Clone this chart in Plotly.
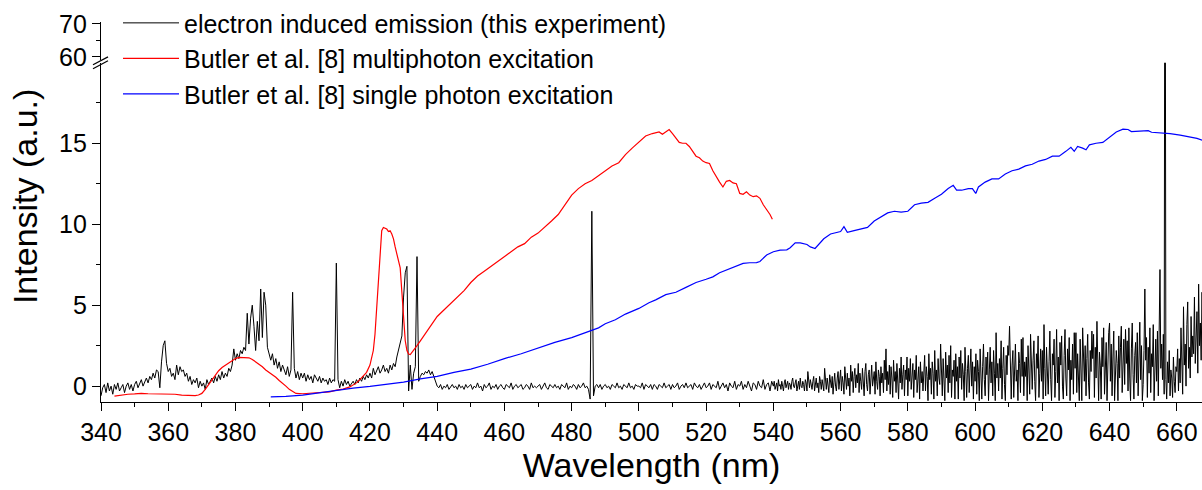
import plotly.graph_objects as go

# ---------------- data ----------------
# electron induced emission, part 1: 0.5 nm steps from 340 nm (rows of 5 nm)
electron_a_start = 340.0
electron_a_step = 0.5
electron_a_rows = [
    [-0.6, -0.1, 0.1, -0.4, 0.2, -0.3, 0.0, -0.5, 0.1, -0.2],   # 340
    [0.2, -0.3, -0.1, 0.1, -0.4, 0.0, 0.2, -0.2, 0.1, -0.3],    # 345
    [0.1, 0.3, -0.1, 0.2, 0.4, 0.0, 0.3, 0.5, 0.2, 0.6],        # 350
    [0.4, 0.8, 0.5, 1.0, 0.9, -0.1, 1.5, 2.5, 2.8, 1.4],        # 355
    [0.9, 1.1, 0.6, 0.8, 0.4, 1.3, 0.7, 1.2, 0.9, 1.0],         # 360
    [0.6, 0.8, 0.3, 0.6, 0.1, 0.4, 0.2, 0.5, -0.1, 0.3],        # 365
    [0.0, 0.2, -0.2, 0.4, 0.1, 0.3, 0.5, 0.2, 0.6, 0.3],        # 370
    [0.7, 0.4, 0.9, 0.5, 0.8, 0.6, 1.1, 0.9, 1.3, 2.3],         # 375
    [1.6, 2.0, 1.7, 2.2, 2.0, 2.4, 2.2, 4.5, 2.6, 4.2],         # 380
    [5.0, 3.7, 2.2, 4.0, 2.8, 6.0, 3.0, 5.8, 5.0, 2.4],         # 385
    [1.9, 1.6, 2.0, 1.3, 1.7, 1.1, 1.5, 0.9, 1.3, 1.0],         # 390
    [0.7, 1.2, 0.6, 1.0, 5.8, 1.1, 0.5, 0.9, 0.4, 0.8],         # 395
    [0.5, 0.8, 0.3, 0.7, 0.4, 0.6, 0.2, 0.7, 0.5, 0.3],         # 400
    [0.6, 0.2, 0.5, 0.3, 0.4, 0.1, 0.5, 0.2, 0.4, 0.3],         # 405
    [7.6, 0.4, -0.1, 0.3, 0.0, 0.4, 0.1, 0.3, 0.0, 0.2],        # 410
    [0.3, 0.1, 0.4, 0.2, 0.5, 0.3, 0.6, 0.4, 0.7, 0.5],         # 415
    [0.8, 0.5, 1.1, 0.7, 0.9, 1.2, 0.8, 1.0, 1.3, 0.9],         # 420
    [1.1, 0.8, 1.3, 1.0, 1.4, 1.2, 1.8, 2.2, 2.6, 3.1],         # 425
    [5.5, 7.0, 7.4, -0.3, 1.3, -0.2, 0.8, 1.2, 8.0, 0.3],       # 430
    [0.6, 0.8, 0.7, 0.9, 0.8, 1.0, 0.7, 0.9, 0.6, 0.3],         # 435
    [0.0, -0.1, 0.1, -0.2, 0.0, -0.1, 0.1, -0.2, 0.0, 0.1],     # 440
    [-0.1, 0.0, -0.2, 0.1, -0.1, 0.0, -0.2, 0.1, -0.1, 0.0],    # 445
    [0.1, -0.2, 0.0, -0.1, 0.2, -0.1, 0.0, -0.3, 0.1, -0.1],    # 450
    [0.0, 0.2, -0.2, 0.0, -0.1, 0.1, -0.2, 0.0, 0.1, -0.1],     # 455
    [-0.2, 0.1, 0.0, -0.1, 0.2, -0.2, 0.0, 0.1, -0.1, 0.0],     # 460
    [0.1, -0.2, -0.1, 0.1, 0.0, -0.2, 0.2, -0.1, 0.0, -0.1],    # 465
    [0.0, 0.1, -0.2, 0.0, 0.2, -0.1, -0.2, 0.1, 0.0, -0.1],     # 470
    [0.1, -0.1, 0.0, -0.2, 0.1, 0.0, -0.1, 0.2, -0.2, 0.0],     # 475
    [-0.1, 0.1, 0.0, -0.2, 0.1, -0.1, 0.0, 0.2, -0.1, 0.0],     # 480
    [-0.2, -0.8, 10.8, -0.6, 0.0, 0.1, -0.1, 0.1, -0.2, 0.0],   # 485
    [0.1, -0.1, 0.0, -0.2, 0.1, 0.0, -0.1, 0.2, -0.1, 0.0],     # 490
    [-0.2, 0.1, 0.0, -0.1, 0.2, -0.1, 0.0, -0.2, 0.1, 0.0],     # 495
    [0.0, -0.1, 0.2, -0.2, 0.1, 0.0, -0.1, 0.1, -0.2, 0.1],     # 500
    [0.0, -0.2, 0.1, 0.0, -0.1, 0.2, -0.1, 0.0, 0.1, -0.2],     # 505
    [0.1, -0.1, 0.0, 0.2, -0.2, 0.0, 0.1, -0.1, 0.2, -0.1],     # 510
    [0.0, 0.1, -0.2, 0.2, 0.0, -0.1, 0.1, -0.2, 0.0, 0.2],      # 515
    [-0.1, 0.0, 0.2, -0.2, 0.1, 0.0, -0.1, 0.3, -0.2, 0.0],     # 520
    [0.2, -0.1, 0.1, -0.3, 0.2, 0.0, -0.1, 0.3, -0.2, 0.1],     # 525
    [0.0, 0.3, -0.2, 0.1, -0.1, 0.3, 0.0, -0.3, 0.2, 0.1],      # 530
    [-0.2, 0.3, 0.0, -0.1, 0.4, -0.2, 0.1, 0.2, -0.3, 0.3],     # 535
]
# electron induced emission, part 2: 0.25 nm steps from 540 nm (rows of 5 nm)
electron_b_start = 540.0
electron_b_step = 0.25
electron_b_rows = [
    [0.0, 0.3, -0.2, 0.1, 0.2, -0.3, 0.4, 0.0, 0.1, -0.2, 0.3, 0.0, -0.3, 0.2, 0.4, -0.1, 0.1, 0.3, -0.2, 0.2],        # 540
    [0.1, -0.2, 0.3, 0.5, 0.0, -0.1, 0.2, 0.4, -0.3, 0.1, 0.3, -0.2, 0.5, 0.0, -0.1, 0.3, 0.1, -0.3, 0.4, 0.2],        # 545
    [-0.3, 0.9, 0.2, -0.1, 0.4, 0.0, -0.2, 0.3, 0.6, -0.3, 0.1, 0.5, -0.1, 0.2, -0.4, 0.6, 0.3, -0.2, 0.4, 0.0],       # 550
    [-0.3, 1.1, 0.2, -0.2, 0.5, 0.1, -0.4, 0.7, 0.3, -0.1, 0.6, -0.5, 0.2, 0.8, 0.0, -0.3, 0.5, 0.9, -0.2, 0.3],       # 555
    [1.0, -0.3, 0.6, 0.2, -0.5, 1.2, 0.4, -0.2, 0.8, 0.0, 0.5, -0.6, 1.3, 0.3, 0.9, -0.4, 0.6, 1.1, -0.1, 0.7],        # 560
    [0.2, 1.4, -0.4, 0.8, 0.3, -0.2, 1.1, 0.5, -0.6, 0.9, 1.4, 0.1, -0.3, 0.7, 1.0, -0.5, 0.4, 1.3, 0.0, 0.8],         # 565
    [0.9, -0.5, 1.5, 0.3, -0.2, 1.0, 0.6, -0.6, 1.2, 0.2, 0.8, -0.4, 1.6, 0.4, 2.3, -0.3, 0.9, 0.1, 1.3, -0.5],        # 570
    [1.2, 0.5, -0.7, 1.6, 0.3, 0.9, -0.4, 1.4, 0.6, -0.8, 1.1, 0.2, 1.8, -0.2, 0.7, 1.3, -0.6, 1.0, 0.4, 1.8],         # 575
    [-0.6, 1.1, 0.3, 1.7, -0.2, 0.8, 1.4, -0.7, 1.0, 0.4, 1.9, -0.4, 0.6, 1.2, -0.8, 1.5, 0.2, 0.9, -0.3, 1.6],        # 580
    [1.9, -0.3, 1.2, 0.6, -0.9, 2.0, 0.4, 1.1, -0.5, 1.5, 0.8, -0.8, 2.2, 0.3, 1.0, -0.6, 1.7, 0.5, 0.1, 2.6],         # 585
    [0.4, -0.6, 1.7, 0.8, -0.9, 2.1, 0.5, 1.3, -0.4, 1.9, 0.2, 2.5, -0.7, 1.0, 0.6, 1.6, -0.8, 2.0, 0.3, 1.2],         # 590
    [-0.8, 1.8, 0.5, 2.2, -0.2, 1.4, 0.7, -0.9, 2.4, 0.9, -0.7, 1.1, 1.9, -0.4, 0.6, 2.3, 0.0, 1.5, -0.8, 1.2],        # 595
    [0.3, 2.0, -0.5, 1.6, 0.9, -0.9, 2.3, 0.4, -0.8, 1.2, 2.6, 0.4, -0.6, 1.8, 0.7, 2.1, -0.9, 1.0, 2.4, 0.2],         # 600
    [1.5, -0.6, 2.2, 0.8, -0.9, 3.3, 0.5, 1.4, -0.3, 1.7, 0.5, 2.8, -0.8, 1.1, 2.4, 0.1, -0.9, 1.9, 0.7, 2.5],         # 605
    [1.9, 3.7, 0.2, -0.8, 1.3, 2.2, -0.7, 0.9, 2.6, 0.3, 1.0, -0.9, 2.1, 1.4, -0.4, 2.9, 0.6, 3.0, -0.6, 1.5],         # 610
    [0.6, 1.8, -0.9, 2.5, 1.2, -0.5, 3.2, 0.4, -0.2, 1.6, 2.8, 0.3, -0.9, 2.0, 1.1, 3.1, -0.7, 0.8, 2.3, 0.3],         # 615
    [2.2, -0.8, 3.8, 1.1, -0.6, 2.4, 0.6, -0.5, 1.5, 3.4, 0.4, -0.9, 2.0, 1.3, 2.9, -0.7, 0.9, 3.5, 0.2, 1.8],         # 620
    [-0.9, 2.7, 1.3, 3.1, 0.0, -0.8, 1.9, 3.5, 0.5, -0.6, 2.3, 1.0, 3.0, -0.9, 1.6, 0.4, 2.6, -0.5, 3.3, 1.1],         # 625
    [3.3, -0.4, 2.0, 0.8, -0.9, 2.9, 1.2, -0.9, 3.6, 1.4, 0.3, 2.5, -0.6, 1.7, 3.2, 0.2, -0.8, 2.2, 0.9, 3.4],         # 630
    [1.7, 3.2, -0.7, 2.4, 0.5, 4.0, 0.6, -0.9, 2.1, 1.3, -0.8, 3.0, 1.2, 3.6, -0.5, 0.8, 2.7, -0.9, 1.9, 3.3],         # 635
    [3.9, 0.3, 2.6, -0.6, 1.8, 3.4, -0.9, 0.9, 2.2, 1.4, -0.9, 3.1, 0.5, 2.4, 3.7, -0.4, 1.6, 2.9, 0.1, 3.5],          # 640
    [1.4, 2.8, -0.3, 3.6, 0.5, -0.9, 2.3, 3.9, 0.7, -0.8, 1.9, 2.7, 0.2, 3.3, -0.6, 1.5, 3.95, 0.4, 2.5, -0.9],        # 645
    [0.1, 2.2, 6.0, 1.6, 3.0, -0.7, 2.4, 0.8, 3.6, -0.4, 2.0, 1.2, 3.8, -0.9, 1.0, 2.9, 0.3, 3.4, -0.6, 2.1],          # 650
    [7.2, 1.1, 2.6, 0.4, 3.2, -0.5, 40.0, 0.4, -0.8, 1.5, 0.2, 2.2, -0.6, 1.0, 0.5, -0.7, 1.8, 0.3, -0.4, 1.2],        # 655
    [0.9, 2.3, -0.3, 1.7, 0.2, 3.6, 0.6, -0.5, 4.9, 1.3, 2.6, 0.0, 3.8, 5.2, 1.1, 2.4, 0.5, 4.3, 1.8, 3.1],           # 660
    [2.0, 5.5, 1.4, 3.2, 4.6, 0.8, 6.3, 2.5, 3.9, 1.6, 5.8, 2.9, 6.9],                                                 # 665
]
electron_a = [v for row in electron_a_rows for v in row]
electron_b = [v for row in electron_b_rows for v in row]
electron_wavelength = ([electron_a_start + electron_a_step * i for i in range(len(electron_a))] +
                       [electron_b_start + electron_b_step * i for i in range(len(electron_b))])
electron_intensity = electron_a + electron_b

# Butler et al. multiphoton excitation
multi_wavelength = [344, 346, 348, 350, 352, 354, 356, 358, 360, 362, 364, 366, 368, 369, 370, 371,
                    372, 373, 374, 375, 376, 377, 378, 379, 380, 381, 382, 383, 384, 385, 386, 387,
                    388, 389, 390, 391, 392, 393, 394, 395, 396, 397, 398, 400, 402, 404, 406, 408,
                    410, 412, 414, 415, 416, 417, 418, 419, 420, 420.5, 421, 421.5, 422, 422.5, 423,
                    423.5, 424, 424.5, 425, 425.5, 426, 426.5, 427, 427.5, 428, 428.5, 429, 429.5,
                    430, 430.5, 431, 431.5, 432, 433, 434, 435, 436, 437, 438, 439, 440, 442, 444,
                    446, 448, 450, 452, 454, 456, 458, 460, 462, 464, 466, 468, 470, 472, 474, 476,
                    478, 480, 482, 484, 486, 488, 490, 492, 494, 496, 498, 500, 502, 504, 506, 507,
                    508, 509, 510, 511, 512, 513, 514, 515, 516, 517, 518, 519, 520, 521, 522, 523,
                    524, 525, 526, 527, 528, 529, 530, 531, 532, 533, 534, 535, 536, 537, 538, 539,
                    539.7]
multi_intensity = [-0.62, -0.55, -0.5, -0.48, -0.45, -0.47, -0.48, -0.48, -0.48, -0.5, -0.55, -0.58,
                   -0.58, -0.55, -0.45, -0.2, 0.1, 0.4, 0.7, 0.95, 1.15, 1.3, 1.45, 1.6, 1.7, 1.78,
                   1.78, 1.77, 1.75, 1.65, 1.5, 1.38, 1.2, 1.0, 0.85, 0.75, 0.55, 0.35, 0.2, 0.0,
                   -0.2, -0.35, -0.45, -0.47, -0.45, -0.42, -0.4, -0.35, -0.25, -0.18, -0.05, 0.05,
                   0.2, 0.4, 0.6, 0.85, 1.3, 1.7, 2.2, 3.2, 4.8, 6.6, 8.5, 9.6, 9.8, 9.75, 9.7, 9.55,
                   9.6, 9.4, 9.1, 8.6, 8.2, 7.8, 7.3, 5.8, 4.0, 2.8, 2.2, 1.98, 1.95, 2.2, 2.5, 2.8,
                   3.1, 3.4, 3.7, 4.0, 4.3, 4.7, 5.1, 5.5, 5.9, 6.4, 6.8, 7.1, 7.4, 7.7, 8.0, 8.3,
                   8.6, 8.8, 9.2, 9.45, 9.8, 10.2, 10.6, 11.2, 11.8, 12.2, 12.5, 12.7, 13.0, 13.3,
                   13.6, 13.8, 14.3, 14.7, 15.1, 15.45, 15.6, 15.7, 15.55, 15.7, 15.85, 15.6, 15.35,
                   15.05, 15.0, 15.0, 14.8, 14.5, 14.2, 14.1, 13.9, 13.8, 13.75, 13.3, 12.9, 12.6,
                   12.3, 12.65, 12.7, 12.55, 12.5, 11.9, 11.85, 12.0, 11.8, 11.7, 11.75, 11.6, 11.2,
                   10.9, 10.6, 10.3]

# Butler et al. single photon excitation
single_wavelength = [390.5, 395, 400, 405, 410, 415, 420, 425, 430, 435, 440, 445, 450, 455, 460, 465,
                     470, 475, 480, 485, 488, 490, 493, 496, 500, 503, 505, 508, 511, 514, 517, 520,
                     522, 524, 526, 528, 531, 533, 535, 536, 538, 540, 542, 544, 545, 546.5, 548, 550,
                     551, 552.4, 554, 555, 557, 559, 560, 561, 562, 564, 566, 568, 570, 572, 574, 576,
                     578, 580, 582, 584, 586, 588, 590, 592, 593.5, 594.5, 596, 598, 599.2, 600.2, 601,
                     603, 605, 607, 609, 611, 613, 615, 617, 619, 621, 623, 625, 627, 628.5, 629.5,
                     630.5, 632, 633, 634, 636, 638, 640, 642, 644, 645.5, 646.5, 648, 650, 651.5,
                     652.5, 655, 658, 661, 664, 666, 668]
single_intensity = [-0.66, -0.63, -0.55, -0.4, -0.25, -0.12, -0.02, 0.1, 0.25, 0.45, 0.6, 0.85, 1.05,
                    1.35, 1.7, 2.0, 2.35, 2.7, 3.0, 3.35, 3.6, 3.85, 4.1, 4.45, 4.8, 5.15, 5.33, 5.65,
                    5.8, 6.1, 6.4, 6.6, 6.75, 7.0, 7.17, 7.35, 7.58, 7.62, 7.63, 7.7, 8.1, 8.3, 8.4,
                    8.42, 8.55, 8.85, 8.85, 8.75, 8.6, 8.5, 8.9, 9.1, 9.4, 9.5, 9.55, 9.85, 9.5, 9.6,
                    9.7, 9.8, 10.2, 10.45, 10.7, 10.8, 10.75, 10.8, 11.2, 11.3, 11.35, 11.6, 11.85,
                    12.2, 12.4, 12.1, 12.1, 12.2, 12.2, 11.9, 12.3, 12.6, 12.8, 12.8, 13.1, 13.3, 13.4,
                    13.6, 13.7, 13.9, 14.0, 14.2, 14.2, 14.5, 14.75, 14.5, 14.8, 14.7, 14.6, 14.9,
                    15.0, 15.05, 15.4, 15.7, 15.87, 15.85, 15.72, 15.75, 15.75, 15.78, 15.68, 15.65,
                    15.6, 15.5, 15.4, 15.3, 15.15]

x_ticks = list(range(340, 661, 20))
y_ticks_low = [0, 5, 10, 15]
y_ticks_high = [60, 70]

# ---------------- layout geometry (pixels) ----------------
W, H = 1202, 490
ML, MR, MT, MB = 101, 0, 20, 88
PH = H - MT - MB
PW = W - ML - MR
low_top_px, high_bot_px = 61, 58

def py(yp):
    return (H - MB - yp) / PH

def px(xp):
    return (xp - ML) / PW

FONT = "Liberation Sans, Arial, sans-serif"

fig = go.Figure()
fig.add_trace(go.Scatter(x=electron_wavelength, y=electron_intensity, mode="lines",
                         name="electron induced emission (this experiment)",
                         line=dict(color="black", width=1)))
fig.add_trace(go.Scatter(x=multi_wavelength, y=multi_intensity, mode="lines",
                         name="Butler et al. [8] multiphoton excitation",
                         line=dict(color="#ff0000", width=1.2)))
fig.add_trace(go.Scatter(x=single_wavelength, y=single_intensity, mode="lines",
                         name="Butler et al. [8] single photon excitation",
                         line=dict(color="#0000ff", width=1.2)))
# empty trace to activate the upper segment of the broken axis
fig.add_trace(go.Scatter(x=[None], y=[None], yaxis="y2", showlegend=False, hoverinfo="skip"))

axis_common = dict(showgrid=False, zeroline=False, showline=True, linecolor="black", linewidth=1.3,
                   ticks="outside", tickcolor="black", tickwidth=1.3, ticklen=8,
                   tickfont=dict(family=FONT, size=25, color="black"))

fig.update_layout(
    width=W, height=H,
    margin=dict(l=ML, r=MR, t=MT, b=MB),
    paper_bgcolor="white", plot_bgcolor="white",
    font=dict(family=FONT, color="black"),
    xaxis=dict(range=[340, 667.5], tickvals=x_ticks,
               minor=dict(dtick=10, tick0=340, ticks="outside", ticklen=4, tickwidth=1.3, tickcolor="black"),
               title=dict(text="Wavelength (nm)", font=dict(family=FONT, size=34), standoff=4),
               **axis_common),
    yaxis=dict(range=[-0.98, 19.97], domain=[0, py(low_top_px)], tickvals=y_ticks_low,
               minor=dict(dtick=2.5, tick0=0, ticks="outside", ticklen=4, tickwidth=1.3, tickcolor="black"),
               **axis_common),
    yaxis2=dict(range=[59.1, 70.6], domain=[py(high_bot_px), 1], tickvals=y_ticks_high, anchor="x",
                minor=dict(dtick=5, tick0=60, ticks="outside", ticklen=4, tickwidth=1.3, tickcolor="black"),
                **axis_common),
    legend=dict(x=px(118), y=1 + 22 / PH, xanchor="left", yanchor="top",
                bgcolor="rgba(0,0,0,0)", font=dict(family=FONT, size=25, color="black"),
                itemwidth=56, tracegroupgap=0),
    showlegend=True,
)

# y-axis title
fig.add_annotation(text="Intensity (a.u.)", textangle=-90, xref="paper", yref="paper",
                   x=px(25), y=py(196), xanchor="center", yanchor="middle", showarrow=False,
                   font=dict(family=FONT, size=34, color="black"))

# axis break marks
for (x0, y0, x1, y1) in [(93, 63, 108, 55), (93, 67, 108, 59)]:
    fig.add_shape(type="line", xref="paper", yref="paper", x0=px(x0), y0=py(y0), x1=px(x1), y1=py(y1),
                  line=dict(color="black", width=1.3))

fig.write_html("out.html")
